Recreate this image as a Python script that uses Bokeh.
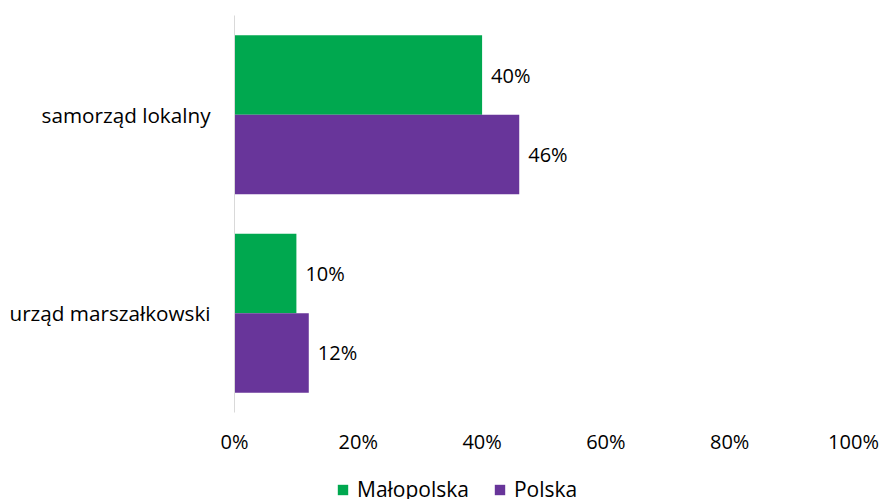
from bokeh.plotting import figure
from bokeh.layouts import column
from bokeh.models import ColumnDataSource, Range1d, NumeralTickFormatter, Legend, LegendItem, LabelSet, FixedTicker
from bokeh.core.properties import value
from bokeh.embed import file_html
from bokeh.resources import INLINE

categories = ["urząd marszałkowski", "samorząd lokalny"]
series_names = ["Małopolska", "Polska"]
malopolska = [0.10, 0.40]
polska = [0.12, 0.46]
x_ticks = [0, 0.2, 0.4, 0.6, 0.8, 1.0]

GREEN = "#00a84f"
PURPLE = "#68359a"
FONT = "Open Sans"
FS = "20px"

pos = [i + 0.5 for i in range(len(categories))]
src = ColumnDataSource(dict(
    ym=[y + 0.2 for y in pos],
    yp=[y - 0.2 for y in pos],
    m=malopolska,
    p=polska,
    m_lbl=[f"{round(v*100)}%" for v in malopolska],
    p_lbl=[f"{round(v*100)}%" for v in polska],
))

p = figure(width=883, height=470, y_range=Range1d(0, len(categories)),
           x_range=Range1d(0, 1.0), output_backend="svg", toolbar_location=None,
           min_border_left=234, min_border_right=30, min_border_top=15, min_border_bottom=58)
p.outline_line_color = None

r1 = p.hbar(y="ym", right="m", left=0, height=0.4, source=src, fill_color=GREEN, line_color=None)
r2 = p.hbar(y="yp", right="p", left=0, height=0.4, source=src, fill_color=PURPLE, line_color=None)

for col, yc, lbl in (("m", "ym", "m_lbl"), ("p", "yp", "p_lbl")):
    ls = LabelSet(x=col, y=yc, text=lbl, source=src,
                  x_offset=9, text_baseline="middle", text_align="left",
                  text_font=value(FONT), text_font_size=value(FS), text_color="#000000")
    p.add_layout(ls)

p.xgrid.visible = False
p.ygrid.visible = False

p.xaxis.ticker = FixedTicker(ticks=x_ticks)
p.xaxis.formatter = NumeralTickFormatter(format="0%")
p.xaxis.axis_line_color = None
p.xaxis.major_tick_line_color = None
p.xaxis.minor_tick_line_color = None
p.xaxis.major_tick_out = 0
p.xaxis.major_tick_in = 0
p.xaxis.major_label_standoff = 15
p.xaxis.major_label_text_font = FONT
p.xaxis.major_label_text_font_size = FS
p.xaxis.major_label_text_color = "#000000"

p.yaxis.ticker = FixedTicker(ticks=pos)
p.yaxis.major_label_overrides = {pos[i]: categories[i] for i in range(len(categories))}
p.yaxis.axis_line_color = "#d9d9d9"
p.yaxis.major_tick_line_color = None
p.yaxis.minor_tick_line_color = None
p.yaxis.major_tick_out = 0
p.yaxis.major_tick_in = 0
p.yaxis.major_label_standoff = 24
p.yaxis.major_label_text_font = FONT
p.yaxis.major_label_text_font_size = "20.7px"
p.yaxis.major_label_text_color = "#000000"

# legend strip below the chart (frame aligned with the chart's frame)
p2 = figure(width=883, height=29, x_range=Range1d(0, 1), y_range=Range1d(0, 1),
            output_backend="svg", toolbar_location=None,
            min_border_left=0, min_border_right=0, min_border_top=0, min_border_bottom=0)
p2.axis.visible = False
p2.grid.visible = False
p2.outline_line_color = None
hidden = ColumnDataSource(dict(x=[-5], y=[-5]))
g1 = p2.rect(x="x", y="y", width=0.1, height=0.1, source=hidden, fill_color=GREEN, line_color=None)
g2 = p2.rect(x="x", y="y", width=0.1, height=0.1, source=hidden, fill_color=PURPLE, line_color=None)
legend = Legend(items=[LegendItem(label=series_names[0], renderers=[g1]),
                       LegendItem(label=series_names[1], renderers=[g2])],
                orientation="horizontal", location=(102, -4),
                label_text_font=FONT, label_text_font_size="21px", label_text_color="#000000",
                glyph_width=13, glyph_height=13, spacing=24, padding=0, margin=0,
                label_standoff=8, border_line_color=None, background_fill_alpha=0)
p2.add_layout(legend, "center")

open("out.html", "w").write(file_html(column(p, p2, spacing=0), INLINE))
